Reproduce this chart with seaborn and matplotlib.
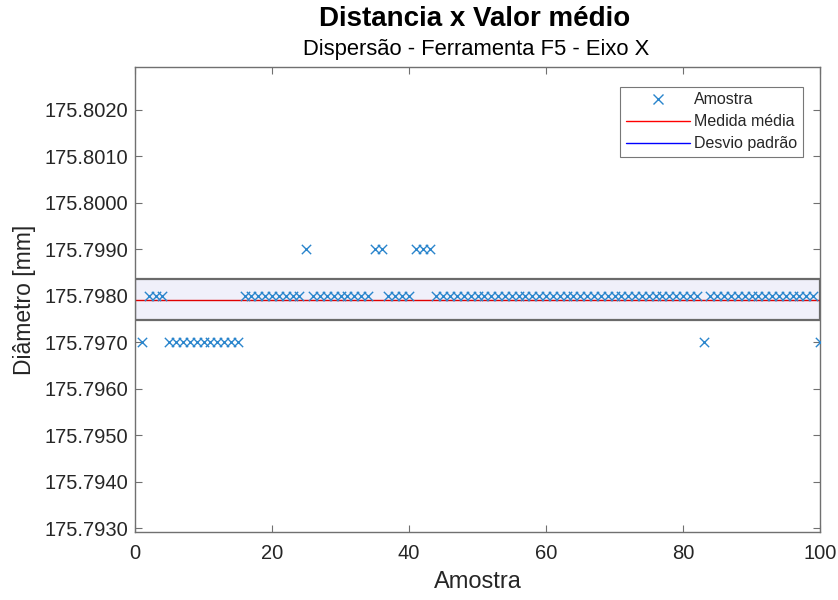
import numpy as np
import pandas as pd
import matplotlib
matplotlib.use("Agg")
import matplotlib.pyplot as plt
import seaborn as sns
from matplotlib.lines import Line2D
from matplotlib.patches import Rectangle

# ---------------- data ----------------
amostra = list(range(1, 101))
diametro = [
    175.797, 175.798, 175.798, 175.798, 175.797, 175.797, 175.797, 175.797, 175.797, 175.797,
    175.797, 175.797, 175.797, 175.797, 175.797, 175.798, 175.798, 175.798, 175.798, 175.798,
    175.798, 175.798, 175.798, 175.798, 175.799, 175.798, 175.798, 175.798, 175.798, 175.798,
    175.798, 175.798, 175.798, 175.798, 175.799, 175.799, 175.798, 175.798, 175.798, 175.798,
    175.799, 175.799, 175.799, 175.798, 175.798, 175.798, 175.798, 175.798, 175.798, 175.798,
    175.798, 175.798, 175.798, 175.798, 175.798, 175.798, 175.798, 175.798, 175.798, 175.798,
    175.798, 175.798, 175.798, 175.798, 175.798, 175.798, 175.798, 175.798, 175.798, 175.798,
    175.798, 175.798, 175.798, 175.798, 175.798, 175.798, 175.798, 175.798, 175.798, 175.798,
    175.798, 175.798, 175.797, 175.798, 175.798, 175.798, 175.798, 175.798, 175.798, 175.798,
    175.798, 175.798, 175.798, 175.798, 175.798, 175.798, 175.798, 175.798, 175.798, 175.797,
]
x_ticks = [0, 20, 40, 60, 80, 100]
y_ticks = [175.793, 175.794, 175.795, 175.796, 175.797, 175.798, 175.799, 175.800, 175.801, 175.802]
title = "Distancia x Valor médio"
subtitle = "Dispersão - Ferramenta F5 - Eixo X"
legend_labels = ["Amostra", "Medida média", "Desvio padrão"]

df = pd.DataFrame({"Amostra": amostra, "Diametro": diametro})
media = float(np.mean(diametro))
desvio = float(np.std(diametro, ddof=1))

# ---------------- style ----------------
sns.set_theme(style="white")
plt.rcParams["font.family"] = ["Liberation Sans", "DejaVu Sans"]
txt = "#262626"
axcol = "#707070"

fig = plt.figure(figsize=(8.38, 6.0), dpi=100)
ax = fig.add_axes([135 / 838, 1 - 532 / 600, (820 - 135) / 838, (532 - 67) / 600])

# std band
ax.add_patch(Rectangle((0, media - desvio), 100, 2 * desvio,
                       facecolor="#f0f0fa", edgecolor="#6a6a6a", linewidth=1.6, zorder=1))
# mean line
ax.axhline(media, color="#e00000", linewidth=1.0, zorder=2)

sns.scatterplot(data=df, x="Amostra", y="Diametro", marker="x", color="#2a85cc",
                s=45, linewidth=1.0, ax=ax, zorder=3, legend=False)

ax.set_xlim(0, 100)
ax.set_ylim(media - 0.005, media + 0.005)
ax.set_xticks(x_ticks)
ax.set_xticklabels([str(v) for v in x_ticks])
ax.set_yticks(y_ticks)
ax.set_yticklabels([f"{v:.4f}" for v in y_ticks])
ax.tick_params(direction="in", length=5, width=0.8, colors=axcol, labelcolor=txt,
               labelsize=14.5, top=True, right=True, bottom=True, left=True, pad=5)
ax.tick_params(axis="x", pad=8.5)
for sp in ax.spines.values():
    sp.set_color(axcol)
    sp.set_linewidth(1.0)

ax.set_xlabel("Amostra", fontsize=17, color=txt, labelpad=6)
ax.set_ylabel("Diâmetro [mm]", fontsize=16.5, color=txt, labelpad=6)

cx = (135 + 820) / 2 / 838
fig.text(cx - 0.004, 1 - 19 / 600, title, ha="center", va="center", fontsize=20, fontweight="bold", color="black")
fig.text(cx - 0.002, 1 - 49 / 600, subtitle, ha="center", va="center", fontsize=15.8, color="black")

handles = [
    Line2D([], [], marker="x", linestyle="none", color="#2a85cc", markersize=7, markeredgewidth=1.0),
    Line2D([], [], color="#ff0000", linewidth=1.0),
    Line2D([], [], color="#0000ff", linewidth=1.0),
]
leg = ax.legend(handles, legend_labels, loc="upper right", bbox_to_anchor=(0.9745, 0.958),
                fontsize=11.5, frameon=True, fancybox=False, handlelength=4.0,
                handletextpad=0.25, borderpad=0.35, labelspacing=0.45, borderaxespad=0)
leg.get_frame().set_edgecolor("#555555")
leg.get_frame().set_linewidth(0.8)
for t in leg.get_texts():
    t.set_color(txt)

fig.savefig("out.png", dpi=100)
